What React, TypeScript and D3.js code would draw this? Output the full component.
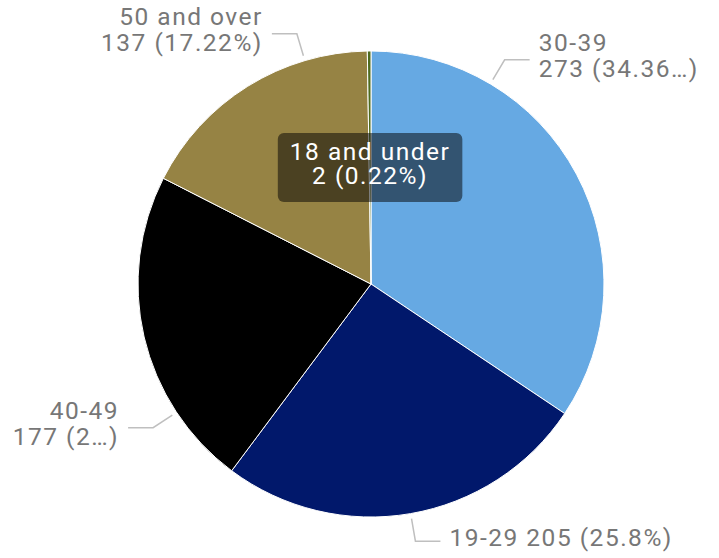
import React, { useEffect, useRef } from "react";
import * as d3 from "d3";

// ---- data ----
const categories = ["30-39", "19-29", "40-49", "50 and over", "18 and under"];
const values = [273, 205, 177, 137, 2];
const percentLabels = ["(34.36\u2026)", "(25.8%)", "(2\u2026)", "(17.22%)", "(0.22%)"];
const colors = ["#66A9E3", "#01186B", "#000000", "#968344", "#4E6B1F"];
// label placement: leader-line angle in degrees (null = inside label), single-line flag
const labelAngles: (number | null)[] = [30.8, 170.2, 236.6, 343.5, null];
const singleLine = [false, true, false, false, false];

const W = 719;
const H = 558;
const CX = 371;
const CY = 284;
const R = 233;
const FONT = "Roboto, 'DejaVu Sans', sans-serif";
const FS = 24.5;
const LS = 1.5;

export default function App() {
  const ref = useRef<SVGSVGElement | null>(null);

  useEffect(() => {
    const svg = d3.select(ref.current);
    svg.selectAll("*").remove();
    const g = svg.append("g").attr("transform", `translate(${CX},${CY})`);

    const pie = d3
      .pie<number>()
      .sort(null)
      .value((d) => d)
      .startAngle(0)
      .endAngle(Math.PI * 2);
    const arcs = pie(values);
    const arc = d3.arc<d3.PieArcDatum<number>>().innerRadius(0).outerRadius(R);

    g.selectAll("path.slice")
      .data(arcs)
      .join("path")
      .attr("class", "slice")
      .attr("d", arc as any)
      .attr("fill", (_d, i) => colors[i])
      .attr("stroke", "#ffffff")
      .attr("stroke-width", 1);

    arcs.forEach((a, i) => {
      const ang = labelAngles[i];
      if (ang == null) {
        const mid = (a.startAngle + a.endAngle) / 2;
        const lx = Math.sin(mid) * R * 0.5;
        const ly = -Math.cos(mid) * R * 0.5;
        const lg = g.append("g");
        const rect = lg.append("rect");
        const mk = (y: number, s: string) =>
          lg
            .append("text")
            .attr("x", lx)
            .attr("y", y)
            .attr("text-anchor", "middle")
            .attr("font-family", FONT)
            .attr("font-size", FS)
            .attr("letter-spacing", LS)
            .attr("fill", "#ffffff")
            .text(s);
        const t1 = mk(ly - 8, categories[i]);
        const t2 = mk(ly + 16, `${values[i]} ${percentLabels[i]}`);
        const w = Math.max(
          (t1.node() as SVGTextElement).getComputedTextLength(),
          (t2.node() as SVGTextElement).getComputedTextLength()
        );
        rect
          .attr("x", lx - w / 2 - 12)
          .attr("y", ly - 8 - 26.5)
          .attr("width", w + 24)
          .attr("height", 69)
          .attr("rx", 6)
          .attr("fill", "rgba(0,0,0,0.5)");
        return;
      }
      const t = (ang * Math.PI) / 180;
      const p0 = [(R + 5) * Math.sin(t), -(R + 5) * Math.cos(t)];
      const p1 = [(R + 28) * Math.sin(t), -(R + 28) * Math.cos(t)];
      const dir = Math.sin(t) >= 0 ? 1 : -1;
      const p2 = [p1[0] + dir * 25, p1[1]];
      g.append("polyline")
        .attr("points", [p0, p1, p2].map((p) => p.join(",")).join(" "))
        .attr("fill", "none")
        .attr("stroke", "#BFBFBF")
        .attr("stroke-width", 1.5);
      const tx = p2[0] + dir * 9;
      const mk = (y: number, s: string) =>
        g
          .append("text")
          .attr("x", tx)
          .attr("y", y)
          .attr("text-anchor", dir > 0 ? "start" : "end")
          .attr("font-family", FONT)
          .attr("font-size", FS)
          .attr("letter-spacing", LS)
          .attr("fill", "#777777")
          .text(s);
      if (singleLine[i]) {
        mk(p2[1] + 5, `${categories[i]} ${values[i]} ${percentLabels[i]}`);
      } else {
        mk(p2[1] - 9, categories[i]);
        mk(p2[1] + 17, `${values[i]} ${percentLabels[i]}`);
      }
    });
  }, []);

  return (
    <svg
      ref={ref}
      width={W}
      height={H}
      style={{ position: "absolute", left: 0, top: 0, background: "#ffffff" }}
    />
  );
}
